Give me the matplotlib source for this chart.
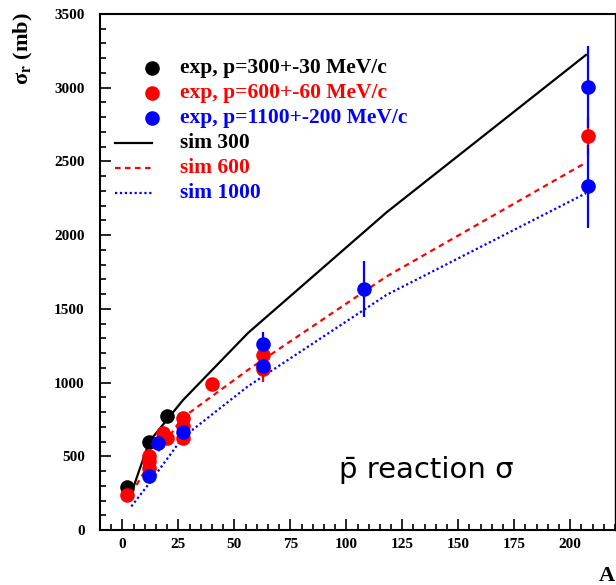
import matplotlib

matplotlib.use("Agg")

import matplotlib.pyplot as plt  # noqa: E402
from matplotlib.ticker import MultipleLocator  # noqa: E402

# experimental points (A, sigma_r, error)
exp300_a = [2, 12, 20]
exp300_s = [290, 600, 772]
exp300_e = [0, 0, 0]

exp600_a = [2, 12, 12, 12, 18, 20, 27, 27, 27, 40, 63, 63, 208]
exp600_s = [238, 500, 465, 420, 658, 625, 757, 705, 625, 990, 1190, 1095, 2673]
exp600_e = [0, 0, 0, 0, 0, 0, 0, 0, 0, 0, 60, 90, 130]

exp1100_a = [12, 16, 27, 63, 63, 108, 208, 208]
exp1100_s = [366, 590, 663, 1265, 1113, 1635, 3005, 2330]
exp1100_e = [0, 0, 0, 80, 60, 190, 280, 280]

# simulations
sim_a = [4, 12, 27, 56, 118, 207]
sim300 = [250, 600, 880, 1335, 2155, 3222]
sim600 = [247, 450, 763, 1085, 1720, 2492]
sim1000 = [160, 317, 628, 974, 1595, 2284]

legend_labels = ["exp, p=300+-30 MeV/c", "exp, p=600+-60 MeV/c",
                 "exp, p=1100+-200 MeV/c", "sim 300", "sim 600", "sim 1000"]

BLACK, RED, BLUE = "#000000", "#ff0000", "#0000ff"
SERIF = ["Liberation Serif", "DejaVu Serif"]
plt.rcParams["mathtext.fontset"] = "stix"

fig = plt.figure(figsize=(6.16, 5.85), dpi=100)
ax = fig.add_axes([100 / 616, 1 - 530 / 585, 515 / 616, 516 / 585])

ax.plot(sim_a, sim300, color=BLACK, lw=1.6, zorder=2)
ax.plot(sim_a, sim600, color=RED, lw=1.6, ls=(0, (2.5, 2)), zorder=2)
ax.plot(sim_a, sim1000, color=BLUE, lw=1.6, ls=(0, (1, 1.2)), zorder=2)

for a, s, e, c in [(exp300_a, exp300_s, exp300_e, BLACK),
                   (exp600_a, exp600_s, exp600_e, RED),
                   (exp1100_a, exp1100_s, exp1100_e, BLUE)]:
    ax.errorbar(a, s, yerr=e, fmt="o", color=c, ms=10.5, elinewidth=1.6,
                capsize=0, mew=0, zorder=3)

ax.set_xlim(-10, 220)
ax.set_ylim(0, 3500)
ax.xaxis.set_major_locator(MultipleLocator(25))
ax.xaxis.set_minor_locator(MultipleLocator(5))
ax.yaxis.set_major_locator(MultipleLocator(500))
ax.yaxis.set_minor_locator(MultipleLocator(100))
ax.tick_params(which="both", direction="in", top=False, right=False, width=1.2)
ax.tick_params(which="major", length=8)
ax.tick_params(which="minor", length=4)
ax.tick_params(axis="y", pad=11)
ax.tick_params(axis="x", pad=6)
for lab in ax.get_xticklabels() + ax.get_yticklabels():
    lab.set_family(SERIF)
    lab.set_weight("bold")
    lab.set_fontsize(11)
for sp in ax.spines.values():
    sp.set_linewidth(1.5)
ax.spines["right"].set_linewidth(1.0)

# legend drawn by hand, ROOT-style
y0, dy = 0.895, 0.0484
colors = [BLACK, RED, BLUE, BLACK, RED, BLUE]
for i, (lab, c) in enumerate(zip(legend_labels, colors)):
    y = y0 - i * dy
    if i < 3:
        ax.plot([0.101], [y], "o", color=c, ms=10.5, mew=0,
                transform=ax.transAxes, clip_on=False)
    else:
        ls = ["-", (0, (2.5, 2)), (0, (1, 1.2))][i - 3]
        ax.plot([0.029, 0.101], [y, y], color=c, lw=1.6, ls=ls,
                transform=ax.transAxes, clip_on=False)
    ax.text(0.155, y, lab, color=c, family=SERIF, weight="bold", fontsize=15.5,
            va="center", ha="left", transform=ax.transAxes)

ax.text(0.633, (530 - 470) / 516, "p\u0304 reaction \u03c3", fontsize=21,
        family=["DejaVu Sans"], ha="center", va="center",
        transform=ax.transAxes)

fig.text(23 / 616, 1 - 12 / 585, "\u03c3$_\\mathbf{r}$ (mb)", rotation=90,
         ha="center", va="top", family=SERIF, weight="bold", fontsize=16)
fig.text(0.999, 1 - 576 / 585, "A", ha="right", va="center",
         family=SERIF, weight="bold", fontsize=16)

fig.savefig("out.png", dpi=100)
